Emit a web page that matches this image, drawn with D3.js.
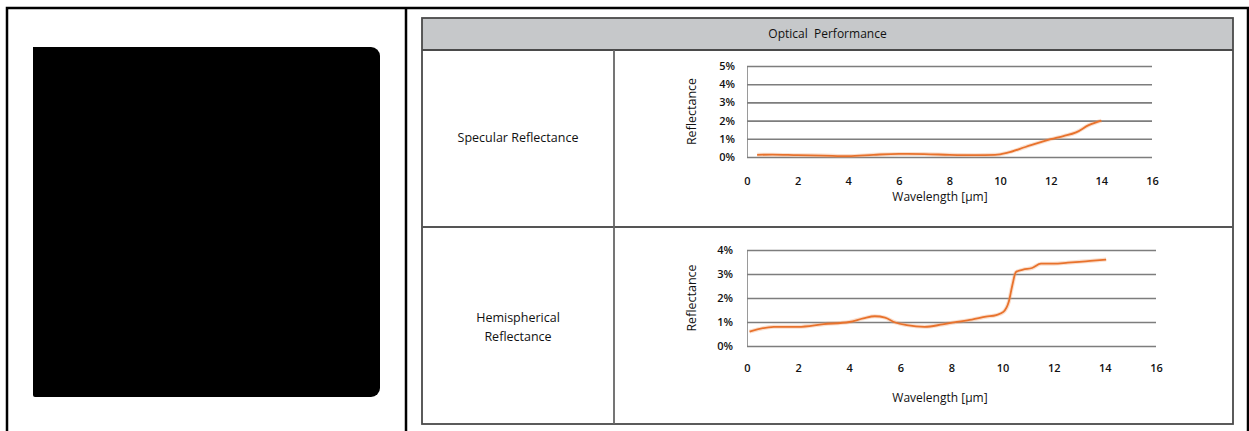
<!DOCTYPE html>
<html>
<head>
<meta charset="utf-8">
<script src="https://d3js.org/d3.v7.min.js"></script>
<style>
	body { margin: 0; background: #fff; }
	svg text { font-family: "Open Sans", "DejaVu Sans", sans-serif; fill: #111; }
</style>
</head>
<body>
<div id="sheet"></div>
<script>
// chart data
var headerTitle = "Optical  Performance";
var rowLabels = [["Specular Reflectance"], ["Hemispherical", "Reflectance"]];
var xTicks = [0, 2, 4, 6, 8, 10, 12, 14, 16];
var specularTicks = [0, 1, 2, 3, 4, 5];
var hemiTicks = [0, 1, 2, 3, 4];

// wavelength [um] / reflectance [%]
var specularWavelength = [0.4, 1, 2, 3, 4, 5, 6, 7, 8, 9, 9.8, 10.3, 11, 12, 12.5, 13, 13.5, 14];
var specularValue = [0.12, 0.13, 0.1, 0.08, 0.05, 0.12, 0.17, 0.16, 0.12, 0.1, 0.12, 0.24, 0.55, 0.98, 1.15, 1.35, 1.75, 2.0];

var hemiWavelength = [0.1, 1.05, 2, 3, 4, 4.55, 5, 5.4, 5.8, 6.25, 6.95, 7.65, 8.1, 8.8, 9.35, 9.75, 10.03, 10.24, 10.38, 10.52, 10.8, 11.15, 11.5, 12, 12.55, 13.25, 14.05];
var hemiValue = [0.6, 0.8, 0.8, 0.91, 1.0, 1.15, 1.24, 1.18, 0.98, 0.87, 0.8, 0.9, 0.98, 1.1, 1.22, 1.29, 1.42, 1.84, 2.53, 3.08, 3.18, 3.25, 3.43, 3.43, 3.47, 3.53, 3.6];

var W = 1249, H = 431;
var svg = d3.select("#sheet").append("svg").attr("width", W).attr("height", H);

// outer frame + the black sample picture on the left
drawFrame = function(){
	svg.append("rect").attr("x", 7).attr("y", 8).attr("width", 1241).attr("height", 440)
		.attr("fill", "none").attr("stroke", "#000").attr("stroke-width", 2.5);
	svg.append("line").attr("x1", 406).attr("x2", 406).attr("y1", 8).attr("y2", H)
		.attr("stroke", "#000").attr("stroke-width", 2.5);

	// sample swatch, right corners rounded
	var x0 = 33, x1 = 380, y0 = 47, y1 = 397, r = 9;
	var p = d3.path();
	p.moveTo(x0, y0);
	p.lineTo(x1 - r, y0);
	p.arcTo(x1, y0, x1, y0 + r, r);
	p.lineTo(x1, y1 - r);
	p.arcTo(x1, y1, x1 - r, y1, r);
	p.lineTo(x0 + 2, y1);
	p.arcTo(x0, y1, x0, y1 - 2, 2);
	p.closePath();
	svg.append("path").attr("d", p.toString()).attr("fill", "#000");
}

// table with header and two rows
drawTable = function(){
	var L = 422, R = 1233, T = 18, B = 424, head = 50, mid = 227, col = 614;
	svg.append("rect").attr("x", L).attr("y", T).attr("width", R - L).attr("height", head - T)
		.attr("fill", "#c6c8ca");
	svg.append("rect").attr("x", L).attr("y", T).attr("width", R - L).attr("height", B - T)
		.attr("fill", "none").attr("stroke", "#4a4a4a").attr("stroke-width", 1.8);
	svg.append("line").attr("x1", L).attr("x2", R).attr("y1", head).attr("y2", head)
		.attr("stroke", "#4a4a4a").attr("stroke-width", 2);
	svg.append("line").attr("x1", L).attr("x2", R).attr("y1", mid).attr("y2", mid)
		.attr("stroke", "#555").attr("stroke-width", 1.8);
	svg.append("line").attr("x1", col).attr("x2", col).attr("y1", head).attr("y2", B)
		.attr("stroke", "#666").attr("stroke-width", 1.8);

	svg.append("text").attr("x", (L + R) / 2).attr("y", 34).attr("dy", "0.35em")
		.attr("text-anchor", "middle").style("font-size", "12px").style("white-space", "pre")
		.text(headerTitle);

	var centers = [138, 327];
	rowLabels.forEach(function(lines, i){
		var t = svg.append("text").attr("x", (L + col) / 2).attr("text-anchor", "middle")
			.style("font-size", "12.5px");
		lines.forEach(function(s, j){
			t.append("tspan").attr("x", (L + col) / 2)
				.attr("y", centers[i] + (j - (lines.length - 1) / 2) * 19)
				.attr("dy", "0.35em").text(s);
		});
	});
}

// one reflectance chart
drawChart = function(opt){
	var g = svg.append("g");
	var x = d3.scaleLinear().domain([0, 16]).range([opt.left, opt.right]);
	var y = d3.scaleLinear().domain([0, d3.max(opt.yTicks)]).range([opt.bottom, opt.top]);

	var ya = g.append("g").attr("transform", "translate(" + opt.left + ",0)")
		.call(d3.axisLeft(y).tickValues(opt.yTicks).tickSize(-(opt.right - opt.left)).tickSizeOuter(0)
			.tickPadding(opt.yPad).tickFormat(function(d){ return d + "%"; }));
	ya.select(".domain").attr("stroke", "#9a9a9a").attr("stroke-width", 1);
	ya.selectAll(".tick line").attr("stroke", "#7d7d7d").attr("stroke-width", 1.6);
	ya.selectAll("text").style("font-size", "11px").style("font-weight", "600")
		.style("font-family", "\"Open Sans\", sans-serif").attr("fill", "#1a1a1a");

	var xa = g.append("g").attr("transform", "translate(0," + opt.bottom + ")")
		.call(d3.axisBottom(x).tickValues(xTicks).tickSize(0).tickPadding(opt.xPad));
	xa.select(".domain").remove();
	xa.selectAll("text").style("font-size", "11px").style("font-weight", "600")
		.style("font-family", "\"Open Sans\", sans-serif").attr("fill", "#1a1a1a");

	g.append("text").attr("x", 940).attr("y", opt.titleY).attr("dy", "0.35em")
		.attr("text-anchor", "middle").style("font-size", "12px").text("Wavelength [\u00b5m]");
	g.append("text").attr("transform", "translate(692," + (opt.top + opt.bottom) / 2 + ") rotate(-90)")
		.attr("dy", "0.35em").attr("text-anchor", "middle").style("font-size", "12.5px").text("Reflectance");

	var pts = opt.xs.map(function(v, i){ return [v, opt.ys[i]]; });
	var line = d3.line().x(function(d){ return x(d[0]); }).y(function(d){ return y(d[1]); })
		.curve(d3.curveMonotoneX);
	g.append("path").datum(pts).attr("d", line).attr("fill", "none")
		.attr("stroke", "#f0a070").attr("stroke-width", 4).attr("stroke-opacity", 0.35);
	g.append("path").datum(pts).attr("d", line).attr("fill", "none")
		.attr("stroke", "#e8722c").attr("stroke-width", 1.8);
}

drawFrame();
drawTable();
drawChart({ left: 747, right: 1152, top: 66, bottom: 157, yTicks: specularTicks,
	xs: specularWavelength, ys: specularValue, yPad: 12, xPad: 20, titleY: 197 });
drawChart({ left: 747, right: 1156, top: 250, bottom: 346, yTicks: hemiTicks,
	xs: hemiWavelength, ys: hemiValue, yPad: 14, xPad: 18, titleY: 398 });
</script>
</body>
</html>
